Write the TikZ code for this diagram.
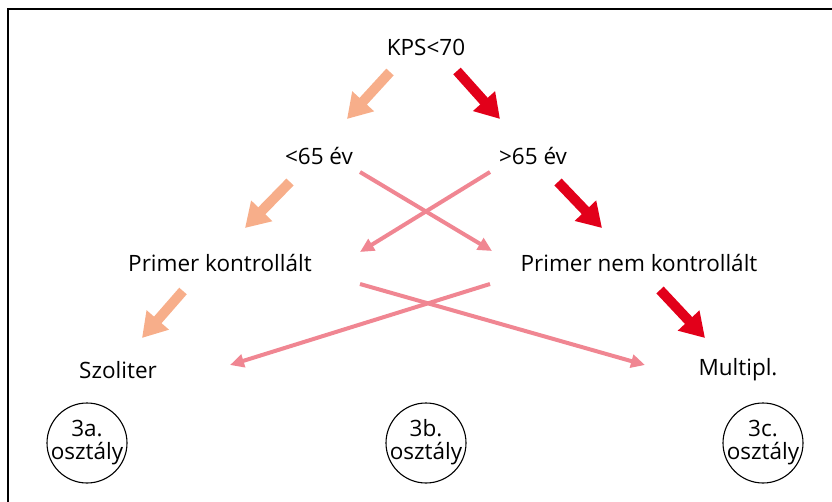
\documentclass[tikz,border=0pt]{standalone}
\usepackage{fontspec}
\setmainfont{Open Sans}
\usetikzlibrary{arrows.meta}

\definecolor{paleorange}{RGB}{247,174,138}
\definecolor{strongred}{RGB}{226,0,26}
\definecolor{softpink}{RGB}{240,134,146}

\tikzset{
  lbl/.style={inner sep=0pt, font=\fontsize{22.5}{26}\selectfont},
  classring/.style={circle, draw, line width=1.1pt, minimum size=80pt, inner sep=0pt,
                    font=\fontsize{22.5}{25}\selectfont},
  bigarrow/.style={line width=10pt, -{Triangle[width=28pt,length=24pt]}},
  orangearrow/.style={bigarrow, paleorange},
  redarrow/.style={bigarrow, strongred},
  crossarrow/.style={softpink, line width=4pt, -{Triangle[width=13pt,length=14pt]}},
}

\newcommand{\ringtext}[1]{\makebox[0pt]{\begin{tabular}{@{}c@{}}#1\\[-2pt]osztály\end{tabular}}}

\begin{document}
\begin{tikzpicture}[x=1pt, y=-1pt]
  \useasboundingbox (0,0) rectangle (832,502);

  % open frame: left and top edges
  \draw[line width=2pt] (8,502) -- (8,9) -- (832,9);

  % decision labels
  \node[lbl] (kps)    at (426,47)  {KPS<70};
  \node[lbl] (young)  at (319,156) {<65 év};
  \node[lbl] (old)    at (533,156) {>65 év};
  \node[lbl] (ctrl)   at (220,263) {Primer kontrollált};
  \node[lbl] (nctrl)  at (639,263) {Primer nem kontrollált};
  \node[lbl] (single) at (118,370) {Szoliter};
  \node[lbl] (multi)  at (738,370) {Multipl.};

  % class circles
  \node[classring] (c3a) at (87,443)  {\ringtext{3a.}};
  \node[classring] (c3b) at (426,443) {\ringtext{3b.}};
  \node[classring] (c3c) at (763,443) {\ringtext{3c.}};

  % arrow end points
  \coordinate (o1s) at (390,72);  \coordinate (o1e) at (347,119);
  \coordinate (r1s) at (457,71);  \coordinate (r1e) at (500,119);
  \coordinate (o2s) at (290,182); \coordinate (o2e) at (245,228);
  \coordinate (r2s) at (558,182); \coordinate (r2e) at (602,228);
  \coordinate (o3s) at (183,291); \coordinate (o3e) at (142,338);
  \coordinate (r3s) at (660,290); \coordinate (r3e) at (705,338);

  \coordinate (xas) at (360,172); \coordinate (xae) at (492,251);
  \coordinate (xbs) at (490,172); \coordinate (xbe) at (360,252);
  \coordinate (xcs) at (360,284); \coordinate (xce) at (645,365);
  \coordinate (xds) at (490,284); \coordinate (xde) at (230,365);

  % thin crossing arrows
  \draw[crossarrow] (xas) -- (xae);
  \draw[crossarrow] (xbs) -- (xbe);
  \draw[crossarrow] (xcs) -- (xce);
  \draw[crossarrow] (xds) -- (xde);

  % main block arrows
  \draw[orangearrow] (o1s) -- (o1e);
  \draw[redarrow]    (r1s) -- (r1e);
  \draw[orangearrow] (o2s) -- (o2e);
  \draw[redarrow]    (r2s) -- (r2e);
  \draw[orangearrow] (o3s) -- (o3e);
  \draw[redarrow]    (r3s) -- (r3e);
\end{tikzpicture}
\end{document}
